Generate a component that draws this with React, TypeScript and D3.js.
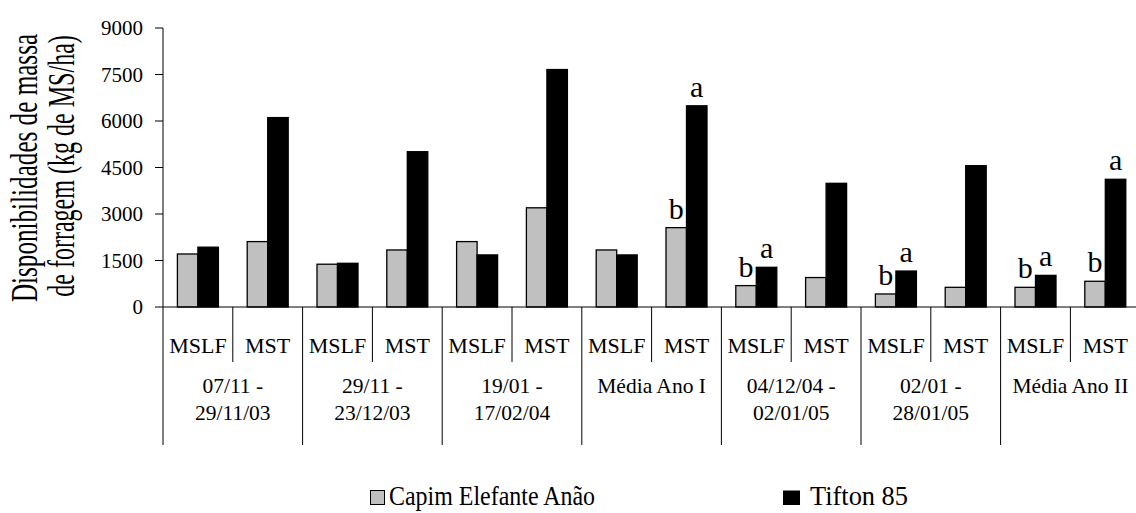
import React from "react";
import * as d3 from "d3";

const groups = [
  ["07/11 -", "29/11/03"],
  ["29/11 -", "23/12/03"],
  ["19/01 -", "17/02/04"],
  ["Média Ano I"],
  ["04/12/04 -", "02/01/05"],
  ["02/01 -", "28/01/05"],
  ["Média Ano II"],
];
const subs = ["MSLF", "MST"];
const capim = [1710, 2110, 1380, 1840, 2110, 3200, 1840, 2560, 690, 950, 420, 635, 635, 830];
const tifton = [1930, 6110, 1410, 5010, 1680, 7660, 1680, 6490, 1280, 3990, 1160, 4560, 1020, 4120];
const capimLetters = ["", "", "", "", "", "", "", "b", "b", "", "b", "", "b", "b"];
const tiftonLetters = ["", "", "", "", "", "", "", "a", "a", "", "a", "", "a", "a"];
const yTicks = [0, 1500, 3000, 4500, 6000, 7500, 9000];
const seriesNames = ["Capim Elefante Anão", "Tifton 85"];
const titleLines = ["Disponibilidades de massa", "de forragem (kg de MS/ha)"];

const W = 1136, H = 513;
const FONT = "Liberation Serif, DejaVu Serif, serif";

export default function App() {
  const x0 = 163;
  const slotW = 69.8;
  const nSlots = groups.length * 2;
  const x = d3.scaleBand<number>().domain(d3.range(nSlots)).range([x0, x0 + slotW * nSlots]).paddingInner(0).paddingOuter(0);
  const y = d3.scaleLinear().domain([0, 9000]).range([307, 28]);
  const barW = 20.5;
  const y0 = y(0);

  return (
    <svg width={W} height={H} style={{ position: "absolute", left: 0, top: 0, background: "#fff", fontFamily: FONT }}>
      <rect x={0} y={0} width={W} height={H} fill="#fff" />
      {/* bars */}
      {d3.range(nSlots).map((i) => {
        const cx = (x(i) as number) + x.bandwidth() / 2;
        return (
          <g key={i}>
            <rect x={cx - barW} y={y(capim[i])} width={barW} height={y0 - y(capim[i])} fill="#c0c0c0" stroke="#000" strokeWidth={1.3} />
            <rect x={cx} y={y(tifton[i])} width={barW} height={y0 - y(tifton[i])} fill="#000" stroke="#000" strokeWidth={1.3} />
            {capimLetters[i] && (
              <text x={cx - barW / 2} y={y(capim[i]) - 9} textAnchor="middle" fontSize={30}>{capimLetters[i]}</text>
            )}
            {tiftonLetters[i] && (
              <text x={cx + barW / 2} y={y(tifton[i]) - 9} textAnchor="middle" fontSize={30}>{tiftonLetters[i]}</text>
            )}
          </g>
        );
      })}
      {/* y axis */}
      <line x1={x0} x2={x0} y1={y(9000)} y2={445} stroke="#000" strokeWidth={1} />
      {yTicks.map((t) => (
        <g key={t}>
          <line x1={x0 - 8} x2={x0} y1={y(t)} y2={y(t)} stroke="#000" strokeWidth={1} />
          <text x={143} y={y(t) + 7} textAnchor="end" fontSize={21}>{t}</text>
        </g>
      ))}
      {/* x axis baseline */}
      <line x1={x0} x2={x0 + slotW * nSlots} y1={y0} y2={y0} stroke="#000" strokeWidth={1} />
      {/* sub category separators and labels */}
      {d3.range(nSlots).map((i) => {
        const left = x(i) as number;
        const isGroupStart = i % 2 === 0;
        return (
          <g key={"s" + i}>
            {i > 0 && (
              <line x1={left} x2={left} y1={y0} y2={isGroupStart ? 445 : 362} stroke="#000" strokeWidth={1} />
            )}
            <text x={left + x.bandwidth() / 2} y={353} textAnchor="middle" fontSize={22}>{subs[i % 2]}</text>
          </g>
        );
      })}
      {/* group labels */}
      {groups.map((g, gi) => {
        const cx = (x(gi * 2) as number) + x.bandwidth();
        return (
          <text key={"g" + gi} x={cx} textAnchor="middle" fontSize={21.5}>
            {g.map((line, li) => (
              <tspan key={li} x={cx} y={393 + li * 27}>{line}</tspan>
            ))}
          </text>
        );
      })}
      {/* y title */}
      <text transform={`translate(37,168) rotate(-90) scale(0.68,1)`} textAnchor="middle" fontSize={37}>{titleLines[0]}</text>
      <text transform={`translate(74,166) rotate(-90) scale(0.65,1)`} textAnchor="middle" fontSize={37}>{titleLines[1]}</text>
      {/* legend */}
      <rect x={370.5} y={490.5} width={14} height={14} fill="#c0c0c0" stroke="#000" strokeWidth={1} />
      <text x={389} y={505} fontSize={27} textLength={206} lengthAdjust="spacingAndGlyphs">{seriesNames[0]}</text>
      <rect x={783} y={490.5} width={17} height={14.5} fill="#000" />
      <text x={810} y={505} fontSize={27} textLength={98} lengthAdjust="spacingAndGlyphs">{seriesNames[1]}</text>
    </svg>
  );
}
